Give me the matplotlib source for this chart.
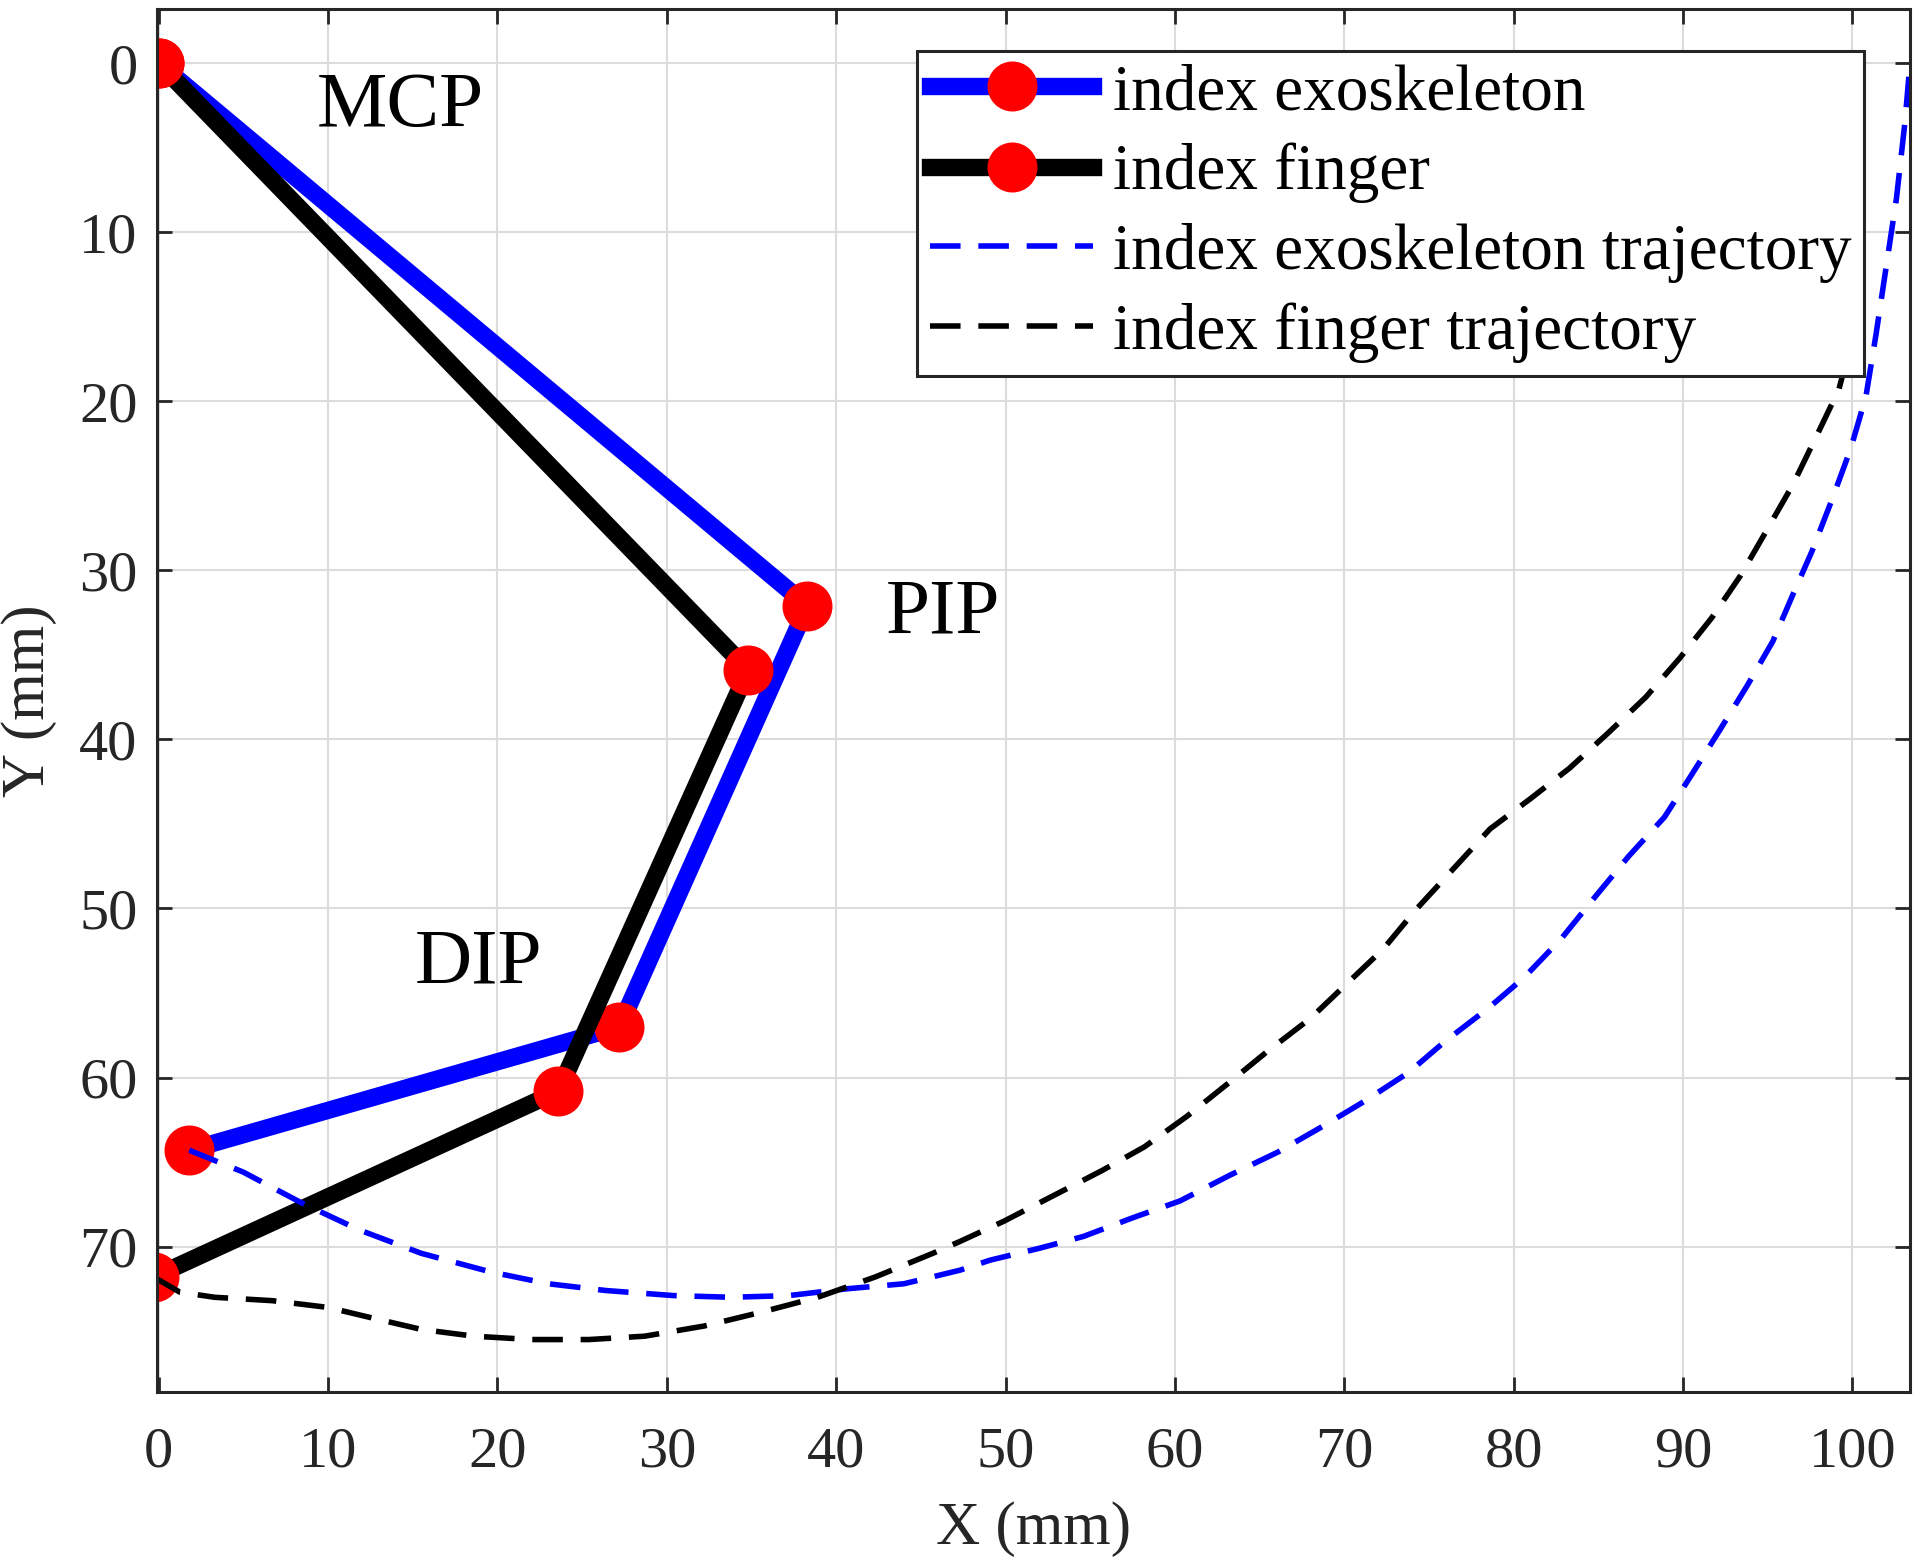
import numpy as np
import matplotlib
matplotlib.use('Agg')
import matplotlib.pyplot as plt

plt.rcParams['font.family'] = ['Liberation Serif', 'DejaVu Serif']

# joint positions (mm)
exo_x = [0.0, 38.3, 27.2, 1.8]
exo_y = [0.0, 32.1, 57.0, 64.3]
finger_x = [0.0, 34.8, 23.6, -0.3]
finger_y = [0.0, 35.9, 60.8, 71.8]

# fingertip trajectories (mm)
exo_traj_x = [1.8, 5.0, 8.4, 11.8, 15.5, 19.6, 23.0, 26.4, 30.4, 33.8, 37.2, 40.6,
              44.0, 47.3, 49.1, 52.0, 54.6, 57.5, 60.3, 63.2, 66.1, 68.7, 71.2,
              73.8, 75.9, 78.5, 80.6, 82.8, 84.9, 86.8, 88.9, 90.5, 92.2, 93.8,
              95.3, 96.5, 97.6, 98.8, 99.9, 100.8, 101.4, 102.0, 102.6, 103.1, 103.4]
exo_traj_y = [64.3, 65.6, 67.4, 69.0, 70.4, 71.5, 72.2, 72.6, 72.9, 73.0, 72.9, 72.5,
              72.2, 71.4, 70.8, 70.1, 69.4, 68.3, 67.3, 65.8, 64.4, 62.9, 61.4,
              59.7, 57.9, 55.9, 54.1, 51.8, 49.2, 46.9, 44.6, 42.1, 39.4, 36.8,
              34.2, 31.4, 28.9, 25.8, 22.8, 19.7, 16.0, 12.0, 8.0, 3.5, 0.0]
finger_traj_x = [-0.3, 1.25, 3.3, 6.7, 10.0, 12.5, 15.5, 18.6, 22.0, 25.4, 28.7, 32.2,
                 35.5, 38.9, 42.3, 45.7, 47.3, 49.9, 52.8, 55.7, 58.2, 60.7, 63.2,
                 65.4, 68.0, 70.2, 72.3, 74.2, 76.4, 78.6, 81.0, 83.3, 85.6, 87.8,
                 89.8, 91.7, 93.4, 94.9, 96.5, 98.1, 99.2, 99.8, 100.2, 100.5, 100.6]
finger_traj_y = [71.8, 72.7, 73.0, 73.2, 73.6, 74.2, 74.9, 75.3, 75.5, 75.5, 75.3, 74.7,
                 73.9, 73.0, 71.8, 70.4, 69.7, 68.5, 67.0, 65.5, 64.1, 62.3, 60.3,
                 58.5, 56.5, 54.4, 52.4, 50.1, 47.7, 45.3, 43.5, 41.7, 39.6, 37.5,
                 35.2, 32.8, 30.3, 27.7, 24.9, 21.6, 19.3, 17.0, 12.0, 5.0, 0.0]

joint_names = ['MCP', 'PIP', 'DIP']
joint_label_x = [9.3, 42.9, 15.1]
joint_label_y = [3.7, 33.7, 54.4]

fig = plt.figure(figsize=(19.2, 15.57), dpi=100)
ax = fig.add_axes([0.0818, 0.1060, 0.9130, 0.8882])

ax.plot(exo_x, exo_y, color='b', lw=12.5, marker='o', markersize=35,
        markerfacecolor='r', markeredgecolor='r', label='index exoskeleton')
ax.plot(finger_x, finger_y, color='k', lw=12.5, marker='o', markersize=35,
        markerfacecolor='r', markeredgecolor='r', label='index finger')
ax.plot(exo_traj_x, exo_traj_y, color='b', lw=4, dashes=(5.5, 3.2),
        label='index exoskeleton trajectory')
ax.plot(finger_traj_x, finger_traj_y, color='k', lw=4, dashes=(5.5, 3.2),
        label='index finger trajectory')

for name, tx, ty in zip(joint_names, joint_label_x, joint_label_y):
    ax.text(tx, ty, name, fontsize=57, color='k', ha='left', va='baseline')

ax.set_xlim(-0.1, 103.4)
ax.set_ylim(78.6, -3.2)
ax.set_xticks(np.arange(0, 101, 10))
ax.set_yticks(np.arange(0, 71, 10))
ax.grid(True, color='#dcdcdc', lw=1.5)
ax.set_axisbelow(True)

ax.tick_params(direction='in', length=11, width=2, top=True, right=True,
               labelsize=42, colors='#262626', pad=14)
ax.tick_params(axis='x', pad=25)
for sp in ax.spines.values():
    sp.set_linewidth(2.2)
    sp.set_color('#262626')

ax.set_xlabel('X (mm)', fontsize=44, color='#262626', labelpad=16)
ax.set_ylabel('Y (mm)', fontsize=44, color='#262626', labelpad=16)

leg = ax.legend(loc='upper right', bbox_to_anchor=(0.974, 0.970), borderaxespad=0,
                fontsize=47, numpoints=1, handlelength=2.5, handletextpad=0.3,
                labelspacing=0.3, borderpad=0.2, fancybox=False, framealpha=1,
                edgecolor='#262626')
leg.get_frame().set_linewidth(2.2)
leg.set_zorder(10)

fig.savefig('out.png', dpi=100)
